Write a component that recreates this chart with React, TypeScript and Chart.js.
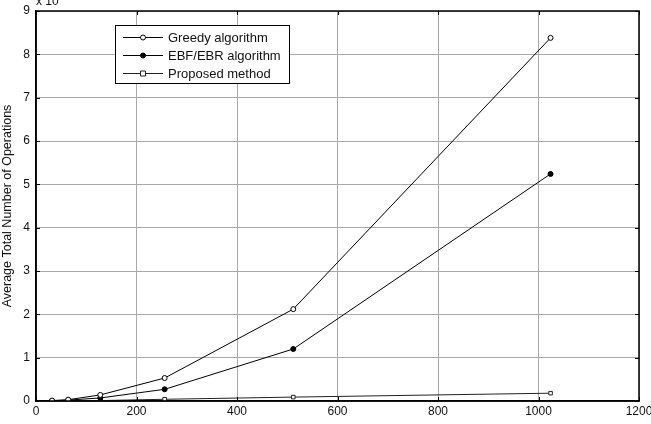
import React, { useEffect, useRef } from "react";
import { Chart, registerables } from "chart.js";
Chart.register(...registerables);

const nodeCounts = [32, 64, 128, 256, 512, 1024];
const greedyOps = [0.01, 0.03, 0.14, 0.53, 2.12, 8.38];
const ebfOps = [0.005, 0.02, 0.07, 0.27, 1.2, 5.24];
const proposedOps = [0.002, 0.005, 0.01, 0.04, 0.09, 0.18];
const seriesNames = ["Greedy algorithm", "EBF/EBR algorithm", "Proposed method"];
const xMin = 0, xMax = 1200, xStep = 200;
const yMin = 0, yMax = 9, yStep = 1;
const yTitle = "Average Total Number of Operations";
const exponentText = "x 10";

const FONT = "'Liberation Sans', Arial, sans-serif";

const boxPlugin = {
  id: "matlabBox",
  afterDraw(chart: any) {
    const ctx = chart.ctx;
    const a = chart.chartArea;
    const xs = chart.scales.x;
    const ys = chart.scales.y;
    ctx.save();
    ctx.strokeStyle = "#000";
    ctx.lineWidth = 1.5;
    ctx.strokeRect(a.left, a.top, a.right - a.left, a.bottom - a.top);
    ctx.lineWidth = 1;
    const tl = 4;
    xs.ticks.forEach((t: any) => {
      const px = Math.round(xs.getPixelForValue(t.value)) + 0.5;
      ctx.beginPath();
      ctx.moveTo(px, a.bottom); ctx.lineTo(px, a.bottom - tl);
      ctx.moveTo(px, a.top); ctx.lineTo(px, a.top + tl);
      ctx.stroke();
    });
    ys.ticks.forEach((t: any) => {
      const py = Math.round(ys.getPixelForValue(t.value)) + 0.5;
      ctx.beginPath();
      ctx.moveTo(a.left, py); ctx.lineTo(a.left + tl, py);
      ctx.moveTo(a.right, py); ctx.lineTo(a.right - tl, py);
      ctx.stroke();
    });
    // exponent label (clipped at top as in reference)
    ctx.fillStyle = "#111";
    ctx.font = "12px " + FONT;
    ctx.textBaseline = "alphabetic";
    ctx.textAlign = "left";
    ctx.fillText(exponentText, a.left, 5);

    // legend
    const lx = 115, ly = 25, lw = 174, lh = 58;
    ctx.fillStyle = "#fff";
    ctx.fillRect(lx, ly, lw, lh);
    ctx.strokeStyle = "#000";
    ctx.lineWidth = 1;
    ctx.strokeRect(lx + 0.5, ly + 0.5, lw, lh);
    chart.data.datasets.forEach((ds: any, i: number) => {
      const y = ly + 12 + i * 18;
      ctx.strokeStyle = ds.borderColor;
      ctx.lineWidth = 1;
      ctx.beginPath();
      ctx.moveTo(123, y + 0.5); ctx.lineTo(163, y + 0.5);
      ctx.stroke();
      ctx.fillStyle = ds.pointBackgroundColor;
      ctx.strokeStyle = ds.pointBorderColor;
      ctx.beginPath();
      if (ds.pointStyle === "rect") {
        const r = ds.pointRadius;
        ctx.rect(143 - r, y + 0.5 - r, 2 * r, 2 * r);
      } else {
        ctx.arc(143, y + 0.5, ds.pointRadius, 0, Math.PI * 2);
      }
      ctx.fill(); ctx.stroke();
      ctx.fillStyle = "#111";
      ctx.font = "13px " + FONT;
      ctx.textBaseline = "middle";
      ctx.fillText(ds.label, 168, y + 1);
    });
    ctx.restore();
  },
};

export default function App() {
  const ref = useRef<HTMLCanvasElement | null>(null);
  useEffect(() => {
    const mk = (vals: number[]) => nodeCounts.map((x, i) => ({ x, y: vals[i] }));
    const chart = new Chart(ref.current!, {
      type: "line",
      data: {
        datasets: [
          { label: seriesNames[0], data: mk(greedyOps), borderColor: "#000", borderWidth: 1,
            pointStyle: "circle", pointRadius: 2.5, pointBackgroundColor: "#fff", pointBorderColor: "#000", pointBorderWidth: 1 },
          { label: seriesNames[1], data: mk(ebfOps), borderColor: "#000", borderWidth: 1,
            pointStyle: "circle", pointRadius: 2.5, pointBackgroundColor: "#000", pointBorderColor: "#000", pointBorderWidth: 1 },
          { label: seriesNames[2], data: mk(proposedOps), borderColor: "#222", borderWidth: 1,
            pointStyle: "rect", pointRadius: 2.5, pointBackgroundColor: "#fff", pointBorderColor: "#222", pointBorderWidth: 1 },
        ],
      },
      options: {
        responsive: false,
        animation: false,
        layout: { padding: { top: 11, right: 12, left: 0, bottom: 0 } },
        plugins: { legend: { display: false }, tooltip: { enabled: false } },
        scales: {
          x: {
            type: "linear", min: xMin, max: xMax,
            ticks: { stepSize: xStep, color: "#111", font: { family: FONT, size: 12 }, padding: 3, maxRotation: 0,
              callback: (v: any) => String(v) },
            grid: { color: "#aaa", lineWidth: 1, drawTicks: false },
            border: { color: "#000", width: 1.5 },
            afterFit: (s: any) => { s.height = 23; s.paddingRight = 0; s.paddingLeft = 0; },
          },
          y: {
            min: yMin, max: yMax,
            ticks: { stepSize: yStep, color: "#111", font: { family: FONT, size: 12 }, padding: 6,
              callback: (v: any) => String(v) },
            grid: { color: "#aaa", lineWidth: 1, drawTicks: false },
            border: { color: "#000", width: 1.5 },
            title: { display: true, text: yTitle, color: "#111", font: { family: FONT, size: 12.5 }, padding: { top: 0, bottom: 2 } },
            afterFit: (s: any) => { s.width = 36; s.paddingTop = 0; s.paddingBottom = 0; },
          },
        },
      },
      plugins: [boxPlugin],
    } as any);
    return () => chart.destroy();
  }, []);
  return (
    <div style={{ position: "fixed", left: 0, top: 0, width: 651, height: 424, background: "#fff" }}>
      <canvas ref={ref} width={651} height={424} style={{ display: "block" }} />
    </div>
  );
}
